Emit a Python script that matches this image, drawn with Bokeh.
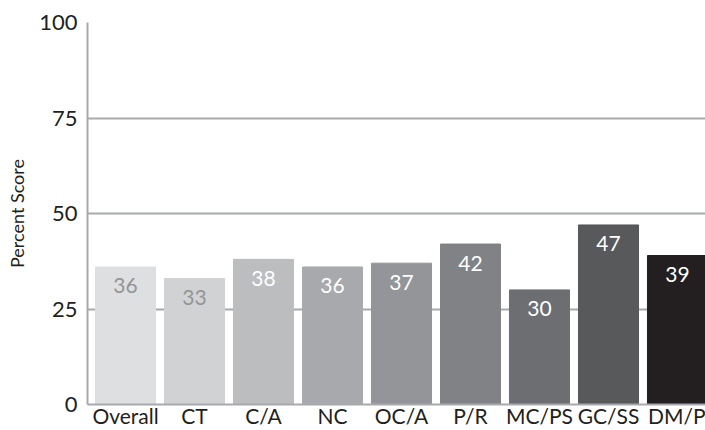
from bokeh.plotting import figure
from bokeh.models import ColumnDataSource, Range1d, FixedTicker, LabelSet
from bokeh.core.properties import value
from bokeh.embed import file_html
from bokeh.resources import INLINE

# Percent scores per area
categories = ["Overall", "CT", "C/A", "NC", "OC/A", "P/R", "MC/PS", "GC/SS", "DM/P"]
scores = [36, 33, 38, 36, 37, 42, 30, 47, 39]
bar_colors = ["#dedfe0", "#d1d2d4", "#bbbdbf", "#a7a9ac", "#939598",
              "#808285", "#6d6e71", "#58595b", "#231f20"]
label_colors = ["#939598", "#939598", "white", "white", "white",
                "white", "white", "white", "white"]
y_ticks = [0, 25, 50, 75, 100]

FONT = "Lato"
TEXT = "#231f20"
GRID = "#a7a9ac"

positions = list(range(len(categories)))
source = ColumnDataSource(dict(
    x=positions, score=scores, label=[str(s) for s in scores],
    color=bar_colors, label_color=label_colors,
))

p = figure(width=705, height=430, output_backend="svg", toolbar_location=None,
           x_range=Range1d(-0.551, 8.406), y_range=Range1d(0, 100))
p.min_border_left = 87
p.min_border_right = 0
p.min_border_top = 22
p.min_border_bottom = 25
p.outline_line_color = None
p.background_fill_color = "white"
p.border_fill_color = "white"

p.vbar(x="x", top="score", bottom=0, width=0.87, color="color", source=source)

labels = LabelSet(x="x", y="score", text="label", source=source,
                  text_align="center", text_baseline="middle", y_offset=-19,
                  text_color="label_color", text_font=value(FONT),
                  text_font_size=value("21px"))
p.add_layout(labels)

# x axis: category names under each bar
p.xaxis.ticker = FixedTicker(ticks=positions)
p.xaxis.major_label_overrides = {i: c for i, c in enumerate(categories)}
p.xaxis.major_label_text_font = FONT
p.xaxis.major_label_text_font_size = "21px"
p.xaxis.major_label_text_color = TEXT
p.xaxis.major_label_standoff = -2
p.xaxis.major_tick_line_color = None
p.xaxis.major_tick_out = 0
p.xaxis.major_tick_in = 0
p.xaxis.minor_tick_line_color = None
p.xaxis.minor_tick_out = 0
p.xaxis.axis_line_color = GRID
p.xaxis.axis_line_width = 2

# y axis
p.yaxis.ticker = FixedTicker(ticks=y_ticks)
p.yaxis.axis_label = "Percent Score"
p.yaxis.axis_label_text_font = FONT
p.yaxis.axis_label_text_font_size = "18px"
p.yaxis.axis_label_text_font_style = "normal"
p.yaxis.axis_label_text_color = TEXT
p.yaxis.axis_label_standoff = 8
p.yaxis.major_label_text_font = FONT
p.yaxis.major_label_text_font_size = "22px"
p.yaxis.major_label_text_color = TEXT
p.yaxis.major_label_standoff = 10
p.yaxis.major_tick_line_color = None
p.yaxis.major_tick_out = 0
p.yaxis.major_tick_in = 0
p.yaxis.minor_tick_line_color = None
p.yaxis.minor_tick_out = 0
p.yaxis.axis_line_color = GRID
p.yaxis.axis_line_width = 2

p.xgrid.grid_line_color = None
p.ygrid.grid_line_color = GRID
p.ygrid.grid_line_width = 2

open("out.html", "w").write(file_html(p, INLINE))
